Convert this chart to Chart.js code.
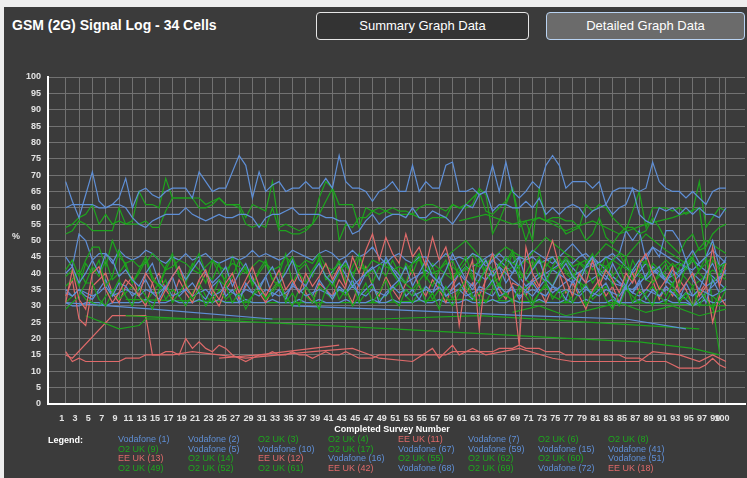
<!DOCTYPE html>
<html><head><meta charset="utf-8">
<script src="https://cdn.jsdelivr.net/npm/chart.js@4.4.1/dist/chart.umd.min.js"></script>
<style>
html,body{margin:0;padding:0;background:#eeeeee;width:747px;height:478px;overflow:hidden;font-family:"Liberation Sans",Arial,sans-serif;}
#panel{position:absolute;left:4px;top:7px;width:760px;height:480px;background:#3b3b3b;}
#title{position:absolute;left:12px;top:16px;color:#fff;font-weight:bold;font-size:14px;line-height:18px;white-space:nowrap;}
.btn{position:absolute;top:12px;height:26px;box-sizing:content-box;color:#fff;font-size:13px;line-height:26px;text-align:center;border-radius:4px;white-space:nowrap;}
#b1{left:316px;width:211px;border:1.5px solid #e6e6e6;background:#333333;}
#b2{left:546px;width:197px;border:1.5px solid #b9d3f2;background:#6b6b6b;}
#c{position:absolute;left:0;top:0;}
#pct{position:absolute;left:12px;top:231px;color:#e6e6e6;font-weight:bold;font-size:9px;}
#xt{position:absolute;left:292px;width:200px;top:424px;text-align:center;color:#fff;font-weight:bold;font-size:9px;line-height:11px;}
#lg{position:absolute;left:48px;top:435px;color:#fff;font-weight:bold;font-size:9px;line-height:10px;}
#legend{position:absolute;left:118px;top:435px;width:600px;font-size:9px;line-height:9.6px;}
#legend span{display:inline-block;width:70px;white-space:nowrap;}
</style></head>
<body>
<div id="panel"></div>
<div id="title">GSM (2G) Signal Log - 34 Cells</div>
<div class="btn" id="b1">Summary Graph Data</div>
<div class="btn" id="b2">Detailed Graph Data</div>
<canvas id="c" width="747" height="478"></canvas>
<div id="pct">%</div>
<div id="xt">Completed Survey Number</div>
<div id="lg">Legend:</div>
<div id="legend"></div>
<script>
// Survey numbers (x categories) and x tick labels
const surveys = [1,2,3,4,5,6,7,8,9,10,11,12,13,14,15,16,17,18,19,20,21,22,23,24,25,26,27,28,29,30,31,32,33,34,35,36,37,38,39,40,41,42,43,44,45,46,47,48,49,50,51,52,53,54,55,56,57,58,59,60,61,62,63,64,65,66,67,68,69,70,71,72,73,74,75,76,77,78,79,80,81,82,83,84,85,86,87,88,89,90,91,92,93,94,95,96,97,98,99,100];
const surveyTicks = [1,3,5,7,9,11,13,15,17,19,21,23,25,27,29,31,33,35,37,39,41,43,45,47,49,51,53,55,57,59,61,63,65,67,69,71,73,75,77,79,81,83,85,87,89,91,93,95,97,99,100];
const yTicks = [0,5,10,15,20,25,30,35,40,45,50,55,60,65,70,75,80,85,90,95,100];

// Dense series: one value (%) per survey 1..100
const vodafone1 = [68,62,57,64,71,62,60,61,63,69, 60,65,66,64,63,65,66,66,66,63, 71,68,65,66,66,71,76,73,63,71, 65,67,68,65,66,66,68,66,66,69, 66,76,68,66,66,65,62,65,66,68, 65,65,73,65,68,66,66,73,74,65, 65,66,64,65,73,65,74,65,63,65, 68,66,73,76,73,66,68,68,68,66, 68,61,65,66,66,66,65,66,74,68, 66,65,65,63,65,63,61,65,66,66];
const vodafone2 = [60,61,61,61,61,60,60,61,61,60, 57,55,54,56,57,58,58,58,60,58, 57,56,57,58,57,57,58,58,57,54, 57,58,58,59,60,58,58,58,58,57, 57,56,56,52,53,56,58,55,57,58, 58,57,60,57,57,59,58,57,55,58, 61,60,64,65,59,61,61,60,60,62, 60,63,58,60,58,60,61,60,57,59, 60,61,58,60,61,66,58,56,55,60, 59,60,58,60,58,60,58,58,57,60];
const o2uk3 = [54,55,57,58,61,55,58,55,56,55, 56,65,61,61,60,69,63,63,63,63, 60,60,61,63,61,61,61,57,61,60, 59,68,54,55,54,53,54,55,63,68, 66,61,61,61,54,60,59,60,59,60, 59,59,58,60,61,61,60,59,61,60, 61,63,65,59,58,60,62,66,54,56, 50,66,56,57,57,56,56,54,61,59, 61,60,57,55,53,59,65,54,60,60, 60,59,60,58,59,68,54,57,60,59];
const o2uk4 = [52,53,56,55,53,53,53,53,60,55, 55,55,56,54,54,59,63,63,63,63, 63,61,62,63,61,61,60,55,54,55, 54,60,53,53,52,52,53,55,58,62, 66,50,55,54,57,57,59,58,59,58, 58,58,58,57,56,57,57,57,61,60, 60,61,66,64,52,56,61,66,57,50, 56,57,56,56,55,52,53,54,50,52, 57,51,49,52,54,54,52,53,57,54, 50,48,46,50,52,47,48,52,54,55];
const vodafone5 = [45,42,52,50,44,46,46,43,47,45, 44,45,47,46,44,43,45,44,46,44, 45,46,44,43,44,45,44,45,47,45, 46,45,44,45,47,46,45,44,46,47, 46,44,45,47,45,46,48,45,43,45, 46,44,43,45,45,42,44,46,44,45, 44,46,45,42,44,46,44,43,45,44, 45,43,44,45,42,44,43,45,46,44, 43,45,44,46,53,50,53,44,48,45, 53,53,50,44,47,43,45,50,42,44];
const vodafone7 = [40,42,37,40,44,40,46,44,39,41, 38,36,40,43,37,35,39,42,38,41, 44,40,37,39,42,36,40,43,38,35, 39,42,37,40,44,38,36,40,43,39, 37,41,44,39,36,40,42,38,45,41, 38,42,36,40,44,39,37,41,46,42, 38,36,41,44,39,42,37,40,45,38, 41,44,38,36,40,43,39,37,42,45, 40,38,43,39,36,41,44,38,40,42, 37,41,39,44,38,35,40,43,38,41];
const o2uk6 = [41,44,39,44,48,48,42,50,45,43, 44,42,43,46,44,41,42,44,43,41, 40,42,44,42,41,43,42,40,42,44, 43,41,42,45,43,42,44,43,46,42, 41,43,42,40,42,41,44,43,42,41, 42,41,43,44,42,40,41,43,42,40, 41,43,42,44,41,42,45,43,42,44, 42,44,43,41,42,45,42,43,44,41, 43,42,44,46,42,41,44,43,41,42, 44,42,43,41,44,41,43,45,42,43];
const o2uk8 = [39,41,36,43,40,44,36,39,47,42, 37,40,44,38,36,41,45,39,37,42, 46,40,38,43,36,39,44,41,37,40, 43,38,36,42,45,40,37,41,44,39, 36,40,43,38,45,41,37,42,39,44, 40,37,43,46,39,36,41,44,38,42, 45,39,37,42,40,36,43,47,41,38, 42,45,39,36,41,44,40,37,43,46, 39,42,36,40,45,38,41,44,37,40, 43,39,36,42,45,40,38,44,41,39];
const o2uk9 = [29,31,33,37,37,32,30,34,38,33, 30,36,33,29,35,38,31,34,37,32, 35,30,33,38,36,31,34,29,33,37, 32,35,38,31,34,30,36,33,29,35, 38,32,35,30,33,37,31,34,38,32, 30,35,33,37,31,34,29,36,32,35, 38,33,30,35,37,32,34,31,36,33, 30,34,37,32,35,31,33,38,30,34, 36,32,29,34,37,31,35,33,30,36, 33,37,31,34,30,35,32,29,34,36];
const vodafone10 = [35,33,35,33,32,35,38,33,37,36, 33,35,38,34,32,36,39,33,35,37, 34,32,36,38,33,35,31,37,34,36, 39,33,35,32,37,34,36,33,38,35, 32,36,34,38,33,35,37,31,34,36, 38,33,35,32,36,34,39,33,35,37, 34,32,36,35,38,33,34,36,32,35, 37,34,33,36,35,32,38,34,36,33, 35,37,33,31,36,34,38,32,35,33, 36,34,32,37,33,35,31,38,34,36];
const eeuk11 = [31,41,32,29,40,42,35,31,34,38, 36,33,40,37,31,35,39,42,36,33, 38,41,35,32,37,40,34,38,42,36, 33,37,41,35,38,34,40,36,39,43, 38,42,36,45,40,47,52,44,51,46, 43,52,45,48,42,51,44,48,40,24, 38,44,23,40,46,38,42,35,18,48, 40,36,44,50,42,38,33,40,37,44, 36,41,38,34,40,37,43,46,40,35, 38,42,34,37,40,33,36,48,36,43];
const eeuk12 = [33,38,26,24,36,38,40,34,31,36, 39,33,30,37,40,35,32,38,34,31, 36,40,33,30,35,38,32,36,39,34, 31,35,38,33,36,40,34,31,37,35, 33,38,35,31,37,42,36,33,39,35, 32,37,41,36,33,38,35,31,36,40, 34,37,33,38,41,35,32,37,36,33, 38,35,31,36,40,34,37,33,29,35, 38,33,36,31,37,40,34,35,38,32, 36,33,38,35,30,34,37,25,33,30];
const eeuk13 = [16,13,14,13,13,13,13,13,13,14, 14,14,15,15,15,16,16,15,20,17, 19,17,16,18,17,15,14,13,14,15, 15,16,15,15,16,15,15,14,15,16, 15,15,16,15,14,14,14,15,15,15, 15,15,15,15,15,15,15,15,16,16, 16,16,16,16,16,17,17,17,18,17, 17,17,16,16,16,15,15,15,15,15, 15,15,15,15,14,14,14,13,13,13, 13,12,11,11,11,11,12,14,12,11];
const o2uk14 = [31,33,35,32,31,30,33,35,32,34, 36,33,31,34,37,32,35,33,30,34, 37,33,31,35,32,34,36,31,33,35, 32,34,37,33,30,35,33,31,36,34, 32,35,33,37,31,34,36,32,33,35, 37,33,31,34,36,32,35,33,30,34, 36,32,34,31,35,37,33,32,34,36, 31,34,36,33,32,35,31,34,37,32, 34,36,32,30,35,33,31,34,36,33, 31,35,33,32,36,30,34,33,31,35];
const vodafone15 = [34,33,35,34,33,34,36,33,34,35, 34,33,35,34,34,36,33,34,35,33, 34,35,33,34,36,34,33,35,34,33, 35,34,33,34,36,35,33,34,35,34, 33,35,34,36,34,33,35,34,33,36, 34,35,33,34,35,34,36,33,34,35, 33,34,35,34,33,36,34,35,33,34, 35,34,33,36,34,35,34,33,35,34, 33,35,34,33,36,34,33,35,34,33, 35,34,32,34,33,35,34,33,34,35];
const vodafone16 = [31,30,30,31,31,31,30,31,31,31, 31,31,32,31,31,31,32,31,31,31, 32,31,31,32,31,31,31,32,31,31, 31,32,31,31,31,32,31,31,32,31, 31,31,32,31,31,31,32,31,31,32, 31,31,31,32,31,31,32,31,31,31, 32,31,31,31,32,31,31,32,31,31, 31,32,31,31,31,32,31,31,32,31, 31,31,32,31,31,31,32,31,31,31, 32,31,31,31,30,31,32,31,31,32];
const o2uk17 = [36,38,41,37,42,39,44,38,40,43, 37,41,45,39,36,42,46,40,38,43, 41,37,44,40,38,45,39,42,36,41, 44,38,40,46,37,41,43,39,45,38, 40,44,37,42,46,39,41,38,44,40, 37,43,40,45,38,42,36,41,44,39, 42,38,45,40,37,43,41,46,38,40, 44,39,37,42,45,40,38,43,41,37, 40,45,39,42,37,44,40,38,43,41, 39,36,42,44,38,41,45,37,40,43];

// Sparse series: [survey, %] pairs (cells not seen in every survey)
const eeuk18 = [[1,15],[2,14],[8,27],[13,27],[14,15],[17,15],[20,16],[24,15],[28,14],[33,15],[38,16],[44,17],[48,14],[53,13],[56,17],[57,14],[59,18],[60,15],[62,17],[64,15],[69,17],[74,14],[77,13],[87,13],[89,16],[93,15],[96,13],[98,15],[100,13]];
const vodafone41 = [[1,31],[14,29],[32,26]];
const eeuk42 = [[24,14],[30,15],[42,18]];
const o2uk49 = [[4,27],[9,23],[12,24],[13,26],[32,26],[48,26],[63,27],[96,23]];
const o2uk52 = [[10,27],[50,23],[77,20],[87,19],[95,17],[99,15]];
const vodafone51 = [[35,30],[48,29],[70,27],[85,26],[94,23]];
const vodafone59 = [[40,38],[42,43],[44,36],[46,40],[49,44],[52,37],[55,41],[58,35],[61,42],[64,38],[67,45],[70,36],[73,40],[76,44],[79,37],[82,41],[85,35],[88,43],[91,38],[94,42],[97,36],[100,40]];
const vodafone67 = [[60,40],[62,35],[65,44],[68,38],[71,33],[74,41],[77,37],[80,45],[83,39],[86,34],[89,42],[92,37],[95,44],[98,39],[100,35]];
const vodafone68 = [[62,42],[65,46],[68,40],[71,47],[74,43],[77,49],[80,42],[83,46],[86,40],[89,48],[92,44],[95,41],[98,47],[100,43]];
const vodafone72 = [[70,36],[72,40],[74,34],[77,39],[80,43],[83,37],[86,35],[89,41],[92,36],[95,30],[97,34],[99,38],[100,45]];
const o2uk55 = [[50,40],[53,35],[56,43],[59,38],[62,46],[65,37],[68,42],[71,36],[74,45],[77,39],[80,34],[83,44],[86,40],[89,37],[92,43],[95,36],[98,41],[100,38]];
const o2uk60 = [[58,45],[61,50],[64,43],[67,48],[70,44],[73,51],[76,46],[79,42],[82,49],[85,45],[88,52],[91,47],[94,43],[97,50],[100,46]];
const o2uk61 = [[10,32],[30,31],[48,31],[60,32],[75,31],[86,31],[100,30]];
const o2uk62 = [[60,56],[64,58],[68,55],[72,57],[76,53],[80,56],[84,52],[88,55],[92,57],[96,60],[99,16]];
const o2uk69 = [[68,28],[72,30],[76,27],[80,29],[84,31],[88,28],[92,30],[96,27],[100,29]];

// Legend order (row by row) with each cell's series
const cellLabels = ['Vodafone (1)','Vodafone (2)','O2 UK (3)','O2 UK (4)','EE UK (11)','Vodafone (7)','O2 UK (6)','O2 UK (8)',
  'O2 UK (9)','Vodafone (5)','Vodafone (10)','O2 UK (17)','Vodafone (67)','Vodafone (59)','Vodafone (15)','Vodafone (41)',
  'EE UK (13)','O2 UK (14)','EE UK (12)','Vodafone (16)','O2 UK (55)','O2 UK (62)','O2 UK (60)','Vodafone (51)',
  'O2 UK (49)','O2 UK (52)','O2 UK (61)','EE UK (42)','Vodafone (68)','O2 UK (69)','Vodafone (72)','EE UK (18)'];
const cellSeries = [vodafone1,vodafone2,o2uk3,o2uk4,eeuk11,vodafone7,o2uk6,o2uk8,
  o2uk9,vodafone5,vodafone10,o2uk17,vodafone67,vodafone59,vodafone15,vodafone41,
  eeuk13,o2uk14,eeuk12,vodafone16,o2uk55,o2uk62,o2uk60,vodafone51,
  o2uk49,o2uk52,o2uk61,eeuk42,vodafone68,o2uk69,vodafone72,eeuk18];

const operatorColors = {Vodafone:'#5f8fd6', O2:'#1ea51e', EE:'#df6a6a'};
function colorFor(label){ return operatorColors[label.split(' ')[0]]; }
function toPoints(s){
  if (Array.isArray(s[0])) return s.map(p => ({x:p[0], y:p[1]}));
  return s.map((v,i) => ({x:surveys[i], y:v})).filter(p => p.y !== null);
}

const FONT = '"Liberation Sans", Arial, sans-serif';
const GRID = '#727272';
const TICK = '#e4e4e4';

new Chart(document.getElementById('c'), {
  type: 'line',
  data: {
    datasets: cellLabels.map((label, i) => ({
      label, data: toPoints(cellSeries[i]),
      borderColor: colorFor(label), backgroundColor: colorFor(label),
      borderWidth: 1.2, pointRadius: 0, tension: 0, spanGaps: true, fill: false
    }))
  },
  options: {
    responsive: false, animation: false, parsing: true,
    layout: {padding: {top: 77, right: 2, bottom: 44, left: 0}},
    plugins: {legend: {display: false}, tooltip: {enabled: false}},
    scales: {
      x: {
        type: 'linear', min: -1.65, max: 102.85,
        afterBuildTicks: s => { s.ticks = surveyTicks.map(v => ({value: v})); },
        afterFit: s => { s.height = 30; },
        grid: {color: GRID, lineWidth: 1, drawTicks: false},
        border: {color: '#ffffff', width: 2},
        ticks: {autoSkip: false, maxRotation: 0, minRotation: 0, padding: 9, labelOffset: -4,
          color: TICK, font: {family: FONT, size: 9, weight: 'bold'}}
      },
      y: {
        min: 0, max: 100,
        afterBuildTicks: s => { s.ticks = yTicks.map(v => ({value: v})); },
        afterFit: s => { s.width = 48; },
        grid: {color: GRID, lineWidth: 1, drawTicks: false},
        border: {color: '#ffffff', width: 2},
        ticks: {padding: 7, color: TICK, font: {family: FONT, size: 9, weight: 'bold'}}
      }
    }
  }
});

// HTML legend built from the same labels
const lg = document.getElementById('legend');
cellLabels.forEach(label => {
  const sp = document.createElement('span');
  sp.textContent = label; sp.style.color = colorFor(label);
  lg.appendChild(sp);
});
</script>
</body></html>
